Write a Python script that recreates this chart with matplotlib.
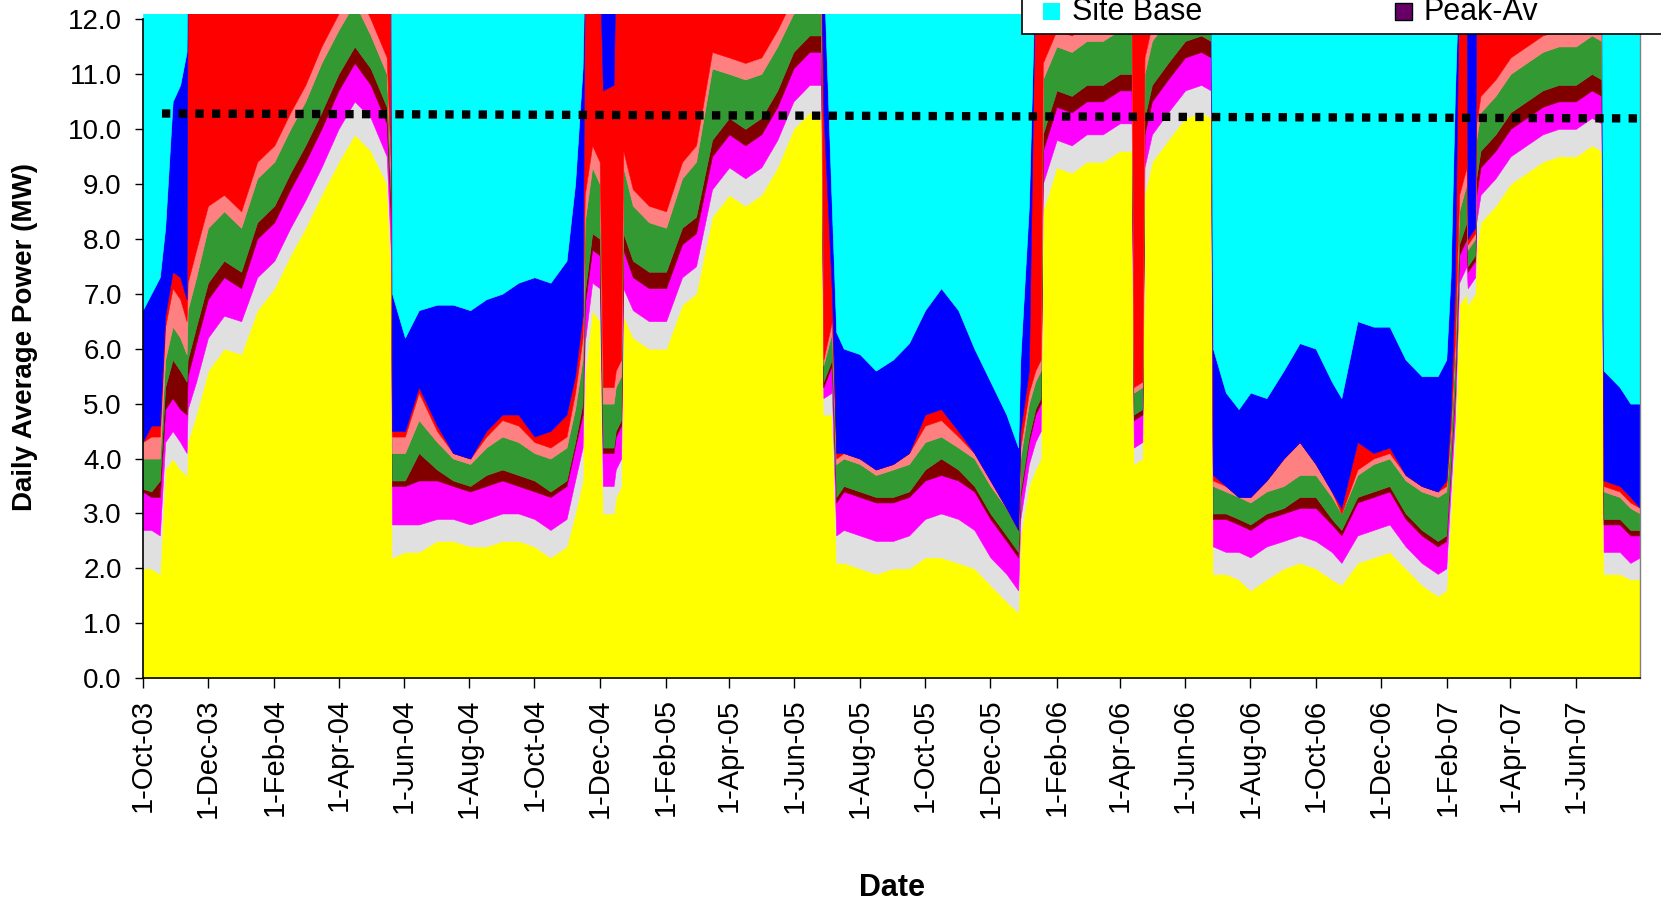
import numpy as np
import matplotlib
matplotlib.use("Agg")
import matplotlib.pyplot as plt
import matplotlib.dates as mdates
from matplotlib.patches import Rectangle

plt.rcParams['font.family'] = ['Liberation Sans', 'DejaVu Sans']

# ---------------- data (MW per layer) ----------------
dates = [
    '2003-10-01', '2003-10-09', '2003-10-17', '2003-10-22', '2003-10-29', '2003-11-05', '2003-11-11',
    '2003-11-12', '2003-11-20', '2003-12-01', '2003-12-16', '2004-01-01', '2004-01-16', '2004-02-01',
    '2004-02-16', '2004-03-01', '2004-03-16', '2004-04-01', '2004-04-16', '2004-05-01', '2004-05-16',
    '2004-05-20', '2004-05-21', '2004-06-02', '2004-06-15', '2004-07-02', '2004-07-17', '2004-08-02',
    '2004-08-17', '2004-09-01', '2004-09-16', '2004-10-01', '2004-10-16', '2004-10-31', '2004-11-08',
    '2004-11-15', '2004-11-17', '2004-11-24', '2004-12-01', '2004-12-04', '2004-12-14', '2004-12-16',
    '2004-12-21', '2004-12-23', '2005-01-01', '2005-01-16', '2005-02-01', '2005-02-16', '2005-03-01',
    '2005-03-16', '2005-04-01', '2005-04-16', '2005-05-01', '2005-05-16', '2005-05-31', '2005-06-15',
    '2005-06-26', '2005-06-28', '2005-07-06', '2005-07-10', '2005-07-17', '2005-08-01', '2005-08-16',
    '2005-09-01', '2005-09-16', '2005-10-01', '2005-10-16', '2005-11-01', '2005-11-16', '2005-12-01',
    '2005-12-16', '2005-12-27', '2005-12-29', '2006-01-06', '2006-01-12', '2006-01-17', '2006-01-19',
    '2006-02-01', '2006-02-15', '2006-03-01', '2006-03-16', '2006-04-01', '2006-04-12', '2006-04-14',
    '2006-04-22', '2006-04-24', '2006-05-01', '2006-05-16', '2006-06-01', '2006-06-16', '2006-06-25',
    '2006-06-27', '2006-07-09', '2006-07-21', '2006-08-01', '2006-08-16', '2006-09-01', '2006-09-16',
    '2006-10-01', '2006-10-16', '2006-10-25', '2006-11-09', '2006-11-24', '2006-12-09', '2006-12-24',
    '2007-01-08', '2007-01-23', '2007-01-31', '2007-02-04', '2007-02-08', '2007-02-12', '2007-02-19',
    '2007-02-20', '2007-02-27', '2007-02-28', '2007-03-04', '2007-03-18', '2007-04-01', '2007-04-16',
    '2007-05-01', '2007-05-16', '2007-06-01', '2007-06-16', '2007-06-25', '2007-06-27', '2007-07-12',
    '2007-07-22', '2007-07-31',
]

yellow = [
    2.0, 2.0, 1.9, 3.8, 4.0, 3.8, 3.7,
    4.3, 4.8, 5.6, 6.0, 5.9, 6.7, 7.1,
    7.7, 8.2, 8.8, 9.4, 9.9, 9.6, 9.0,
    7.2, 2.2, 2.3, 2.3, 2.5, 2.5, 2.4,
    2.4, 2.5, 2.5, 2.4, 2.2, 2.4, 3.0,
    3.6, 5.5, 6.7, 6.5, 3.0, 3.0, 3.3,
    3.5, 6.6, 6.2, 6.0, 6.0, 6.8, 7.0,
    8.4, 8.8, 8.6, 8.8, 9.3, 10.0, 10.3,
    10.3, 4.8, 4.8, 2.1, 2.1, 2.0, 1.9,
    2.0, 2.0, 2.2, 2.2, 2.1, 2.0, 1.7,
    1.4, 1.2, 2.6, 3.5, 3.8, 4.0, 8.5,
    9.3, 9.2, 9.4, 9.4, 9.6, 9.6, 3.9,
    4.0, 8.8, 9.4, 9.8, 10.2, 10.3, 10.2,
    1.9, 1.9, 1.8, 1.6, 1.8, 2.0, 2.1,
    2.0, 1.8, 1.7, 2.1, 2.2, 2.3, 2.0,
    1.7, 1.5, 1.6, 3.0, 4.3, 6.8, 7.0,
    6.8, 7.0, 7.8, 8.3, 8.6, 9.0, 9.2,
    9.4, 9.5, 9.5, 9.7, 9.6, 1.9, 1.9,
    1.8, 1.8,
]
light_grey = [
    0.7, 0.7, 0.7, 0.5, 0.5, 0.5, 0.4,
    0.6, 0.6, 0.6, 0.6, 0.6, 0.6, 0.5,
    0.5, 0.5, 0.5, 0.6, 0.6, 0.6, 0.5,
    0.5, 0.6, 0.5, 0.5, 0.4, 0.4, 0.4,
    0.5, 0.5, 0.5, 0.5, 0.5, 0.5, 0.6,
    0.6, 0.6, 0.5, 0.6, 0.5, 0.5, 0.5,
    0.5, 0.5, 0.5, 0.5, 0.5, 0.5, 0.5,
    0.5, 0.5, 0.5, 0.5, 0.5, 0.5, 0.5,
    0.5, 0.3, 0.4, 0.5, 0.6, 0.6, 0.6,
    0.5, 0.6, 0.7, 0.8, 0.8, 0.7, 0.5,
    0.5, 0.4, 0.3, 0.4, 0.5, 0.5, 0.5,
    0.5, 0.5, 0.5, 0.5, 0.5, 0.5, 0.3,
    0.3, 0.5, 0.5, 0.5, 0.5, 0.5, 0.5,
    0.5, 0.4, 0.5, 0.6, 0.6, 0.5, 0.5,
    0.5, 0.5, 0.4, 0.5, 0.5, 0.5, 0.4,
    0.4, 0.4, 0.4, 0.4, 0.4, 0.4, 0.5,
    0.3, 0.3, 0.5, 0.5, 0.5, 0.5, 0.5,
    0.5, 0.5, 0.5, 0.5, 0.5, 0.4, 0.4,
    0.3, 0.4,
]
magenta = [
    0.7, 0.6, 0.7, 0.6, 0.6, 0.6, 0.7,
    0.6, 0.7, 0.7, 0.7, 0.6, 0.7, 0.7,
    0.7, 0.7, 0.7, 0.7, 0.7, 0.6, 0.6,
    0.6, 0.7, 0.7, 0.8, 0.7, 0.6, 0.6,
    0.6, 0.6, 0.5, 0.5, 0.6, 0.6, 0.6,
    0.6, 0.7, 0.6, 0.6, 0.6, 0.6, 0.6,
    0.6, 0.7, 0.6, 0.6, 0.6, 0.6, 0.6,
    0.6, 0.6, 0.6, 0.6, 0.6, 0.6, 0.6,
    0.6, 0.2, 0.5, 0.6, 0.7, 0.7, 0.7,
    0.7, 0.7, 0.7, 0.7, 0.7, 0.7, 0.7,
    0.6, 0.6, 0.4, 0.4, 0.5, 0.5, 0.6,
    0.6, 0.6, 0.6, 0.6, 0.6, 0.6, 0.5,
    0.5, 0.6, 0.6, 0.6, 0.6, 0.6, 0.6,
    0.5, 0.6, 0.5, 0.5, 0.5, 0.5, 0.5,
    0.6, 0.5, 0.5, 0.6, 0.6, 0.6, 0.5,
    0.5, 0.5, 0.5, 0.4, 0.5, 0.5, 0.5,
    0.3, 0.3, 0.5, 0.5, 0.5, 0.5, 0.5,
    0.5, 0.5, 0.5, 0.5, 0.5, 0.5, 0.5,
    0.5, 0.4,
]
maroon = [
    0.05, 0.1, 0.3, 0.4, 0.7, 0.7, 0.6,
    0.3, 0.3, 0.3, 0.3, 0.3, 0.3, 0.3,
    0.3, 0.3, 0.3, 0.3, 0.3, 0.3, 0.3,
    0.3, 0.1, 0.1, 0.5, 0.2, 0.1, 0.1,
    0.2, 0.2, 0.2, 0.2, 0.1, 0.1, 0.1,
    0.2, 0.2, 0.3, 0.3, 0.1, 0.1, 0.1,
    0.1, 0.3, 0.3, 0.3, 0.3, 0.3, 0.3,
    0.3, 0.3, 0.3, 0.3, 0.3, 0.3, 0.3,
    0.3, 0.1, 0.1, 0.1, 0.1, 0.1, 0.1,
    0.1, 0.1, 0.2, 0.3, 0.2, 0.1, 0.1,
    0.1, 0.1, 0.1, 0.1, 0.1, 0.1, 0.3,
    0.3, 0.3, 0.3, 0.3, 0.3, 0.3, 0.1,
    0.1, 0.3, 0.3, 0.3, 0.3, 0.3, 0.3,
    0.1, 0.1, 0.1, 0.1, 0.1, 0.1, 0.2,
    0.2, 0.1, 0.1, 0.1, 0.1, 0.1, 0.1,
    0.1, 0.1, 0.1, 0.1, 0.1, 0.2, 0.3,
    0.1, 0.1, 0.3, 0.3, 0.3, 0.3, 0.3,
    0.3, 0.3, 0.3, 0.3, 0.3, 0.1, 0.1,
    0.1, 0.1,
]
green = [
    0.55, 0.6, 0.4, 0.5, 0.6, 0.6, 0.5,
    0.9, 0.9, 1.0, 0.9, 0.8, 0.8, 0.8,
    0.8, 0.8, 0.9, 0.8, 0.8, 0.6, 0.6,
    0.4, 0.5, 0.5, 0.6, 0.5, 0.4, 0.4,
    0.5, 0.6, 0.6, 0.5, 0.6, 0.6, 0.6,
    0.8, 1.3, 1.2, 1.0, 0.8, 0.8, 0.8,
    0.8, 1.2, 1.0, 0.9, 0.8, 0.9, 1.0,
    1.3, 0.8, 0.9, 0.8, 0.8, 0.7, 0.7,
    0.7, 0.3, 0.5, 0.6, 0.5, 0.5, 0.4,
    0.5, 0.5, 0.5, 0.4, 0.4, 0.5, 0.5,
    0.5, 0.4, 0.6, 0.6, 0.5, 0.5, 1.0,
    0.8, 0.8, 0.8, 0.8, 0.8, 0.8, 0.4,
    0.4, 0.8, 0.8, 0.8, 0.8, 0.8, 0.8,
    0.5, 0.4, 0.4, 0.4, 0.4, 0.4, 0.4,
    0.4, 0.4, 0.3, 0.4, 0.5, 0.5, 0.6,
    0.7, 0.8, 0.8, 0.5, 0.6, 0.6, 0.7,
    0.3, 0.3, 0.7, 0.7, 0.7, 0.7, 0.7,
    0.7, 0.7, 0.7, 0.7, 0.7, 0.5, 0.4,
    0.4, 0.3,
]
salmon = [
    0.3, 0.4, 0.4, 0.6, 0.7, 0.7, 0.6,
    0.5, 0.5, 0.4, 0.3, 0.3, 0.3, 0.3,
    0.3, 0.3, 0.3, 0.3, 0.3, 0.3, 0.3,
    0.2, 0.3, 0.3, 0.5, 0.2, 0.1, 0.1,
    0.2, 0.3, 0.3, 0.2, 0.2, 0.2, 0.3,
    0.4, 0.5, 0.4, 0.4, 0.3, 0.3, 0.3,
    0.3, 0.3, 0.3, 0.3, 0.3, 0.3, 0.3,
    0.3, 0.3, 0.3, 0.3, 0.3, 0.3, 0.3,
    0.3, 0.1, 0.2, 0.1, 0.1, 0.1, 0.1,
    0.1, 0.2, 0.3, 0.3, 0.2, 0.1, 0.1,
    0.0, 0.0, 0.2, 0.2, 0.2, 0.2, 0.3,
    0.3, 0.3, 0.3, 0.3, 0.3, 0.3, 0.1,
    0.1, 0.3, 0.3, 0.3, 0.3, 0.3, 0.3,
    0.1, 0.1, 0.0, 0.1, 0.2, 0.5, 0.6,
    0.2, 0.1, 0.0, 0.1, 0.1, 0.1, 0.1,
    0.1, 0.1, 0.1, 0.1, 0.2, 0.3, 0.3,
    0.1, 0.1, 0.3, 0.3, 0.3, 0.3, 0.3,
    0.3, 0.3, 0.3, 0.3, 0.3, 0.1, 0.1,
    0.1, 0.1,
]
red = [
    0.0, 0.2, 0.2, 0.2, 0.3, 0.4, 0.4,
    5.8, 5.2, 4.4, 4.2, 4.5, 3.6, 3.3,
    2.7, 2.2, 1.5, 0.9, 0.4, 1.0, 1.7,
    3.8, 0.1, 0.1, 0.1, 0.1, 0.0, 0.0,
    0.1, 0.1, 0.2, 0.1, 0.3, 0.4, 0.3,
    0.4, 4.2, 3.3, 3.6, 5.4, 5.5, 7.4,
    7.2, 3.4, 4.1, 4.4, 4.5, 3.6, 3.3,
    1.6, 1.7, 1.8, 1.7, 1.2, 0.6, 0.3,
    0.3, 4.5, 0.5, 0.1, 0.0, 0.0, 0.0,
    0.0, 0.0, 0.2, 0.2, 0.1, 0.0, 0.0,
    0.0, 0.0, 0.3, 0.4, 7.4, 7.2, 1.8,
    1.2, 1.3, 1.1, 1.1, 0.9, 0.9, 7.7,
    7.6, 1.7, 1.1, 0.7, 0.3, 0.2, 0.3,
    0.1, 0.0, 0.0, 0.0, 0.0, 0.0, 0.0,
    0.0, 0.0, 0.1, 0.5, 0.1, 0.1, 0.0,
    0.0, 0.0, 0.1, 0.3, 1.0, 4.2, 3.7,
    0.1, 0.1, 2.9, 2.4, 2.1, 1.7, 1.5,
    1.3, 1.2, 1.2, 1.0, 1.1, 0.1, 0.1,
    0.1, 0.0,
]
blue = [
    2.4, 2.4, 2.7, 1.6, 3.1, 3.5, 4.5,
    0, 0, 0, 0, 0, 0, 0,
    0, 0, 0, 0, 0, 0, 0,
    0, 2.5, 1.7, 1.4, 2.2, 2.7, 2.7,
    2.4, 2.2, 2.4, 2.9, 2.7, 2.8, 3.5,
    4.5, 0, 0, 0, 2.3, 2.2, 0,
    0, 0, 0, 0, 0, 0, 0,
    0, 0, 0, 0, 0, 0, 0,
    0, 2.7, 1.5, 2.2, 1.9, 1.9, 1.8,
    1.9, 2.0, 1.9, 2.2, 2.2, 1.9, 1.8,
    1.7, 1.5, 1.3, 3.0, 0, 0, 0,
    0, 0, 0, 0, 0, 0, 0,
    0, 0, 0, 0, 0, 0, 0,
    2.3, 1.7, 1.6, 1.9, 1.5, 1.6, 1.8,
    2.1, 2.0, 2.0, 2.2, 2.3, 2.2, 2.1,
    2.0, 2.1, 2.2, 2.5, 3.5, 0, 0,
    5.0, 4.8, 0, 0, 0, 0, 0,
    0, 0, 0, 0, 0, 2.0, 1.8,
    1.7, 1.9,
]
site_base = [
    6.3, 6.0, 5.7, 4.8, 2.5, 2.2, 1.6,
    0, 0, 0, 0, 0, 0, 0,
    0, 0, 0, 0, 0, 0, 0,
    0, 6.0, 6.8, 6.3, 6.2, 6.2, 6.3,
    6.1, 6.0, 5.8, 5.7, 5.8, 5.4, 4.0,
    1.9, 0, 0, 0, 0, 0, 0,
    0, 0, 0, 0, 0, 0, 0,
    0, 0, 0, 0, 0, 0, 0,
    0, 0, 4.5, 6.7, 7.0, 7.1, 7.4,
    7.2, 6.9, 6.3, 5.9, 6.3, 7.0, 7.6,
    8.2, 8.8, 7.2, 4.4, 0, 0, 0,
    0, 0, 0, 0, 0, 0, 0,
    0, 0, 0, 0, 0, 0, 0,
    7.0, 7.8, 8.1, 7.8, 7.9, 7.4, 6.9,
    7.0, 7.6, 7.9, 6.5, 6.6, 6.6, 7.2,
    7.5, 7.5, 7.2, 5.7, 2.4, 0, 0,
    0, 0, 0, 0, 0, 0, 0,
    0, 0, 0, 0, 0, 7.4, 7.7,
    8.0, 8.0,
]

trend_dates = ['2003-10-19', '2007-07-31']
trend_values = [10.28, 10.19]

tick_dates = ['2003-10-01', '2003-12-01', '2004-02-01', '2004-04-01', '2004-06-01', '2004-08-01',
              '2004-10-01', '2004-12-01', '2005-02-01', '2005-04-01', '2005-06-01', '2005-08-01',
              '2005-10-01', '2005-12-01', '2006-02-01', '2006-04-01', '2006-06-01', '2006-08-01',
              '2006-10-01', '2006-12-01', '2007-02-01', '2007-04-01', '2007-06-01']
tick_labels = ['1-Oct-03', '1-Dec-03', '1-Feb-04', '1-Apr-04', '1-Jun-04', '1-Aug-04',
               '1-Oct-04', '1-Dec-04', '1-Feb-05', '1-Apr-05', '1-Jun-05', '1-Aug-05',
               '1-Oct-05', '1-Dec-05', '1-Feb-06', '1-Apr-06', '1-Jun-06', '1-Aug-06',
               '1-Oct-06', '1-Dec-06', '1-Feb-07', '1-Apr-07', '1-Jun-07']

layer_colors = ['#FFFF00', '#E0E0E0', '#FF00FF', '#800000', '#339933',
                '#FF8080', '#FF0000', '#0000FF', '#00FFFF']

# ---------------- figure ----------------
W, H = 1661, 906
fig = plt.figure(figsize=(W / 100, H / 100), dpi=100)
ax = fig.add_axes([142.7 / W, 1 - 678.3 / H, (1640 - 142.7) / W, (678.3 - 13.5) / H])

x = mdates.date2num(np.array(dates, dtype='datetime64[D]'))
layers = [yellow, light_grey, magenta, maroon, green, salmon, red, blue, site_base]
ax.stackplot(x, layers, colors=layer_colors, edgecolor='face', linewidth=0.4)

tx = mdates.date2num(np.array(trend_dates, dtype='datetime64[D]'))
ax.plot(tx, trend_values, color='black', linewidth=6, linestyle=(0, (1, 1)),
        dash_capstyle='butt', zorder=5)

ax.set_xlim(mdates.date2num(np.datetime64('2003-10-01')),
            mdates.date2num(np.datetime64('2007-07-31')))
ax.set_ylim(0, 12.1)

ax.set_xticks(mdates.date2num(np.array(tick_dates, dtype='datetime64[D]')))
ax.set_xticklabels(tick_labels, rotation=90)
ax.set_yticks(np.arange(0, 13, 1))
ax.set_yticklabels([f'{v:.1f}' for v in np.arange(0, 13, 1)])

ax.tick_params(axis='y', direction='out', length=5.5, width=1, pad=9.5, labelsize=20)
ax.tick_params(axis='x', direction='out', length=7, width=1, pad=7.5, labelsize=21)

ax.spines['top'].set_visible(False)
ax.spines['right'].set_color('#808080')
ax.spines['right'].set_linewidth(1)
ax.spines['left'].set_linewidth(1.2)
ax.spines['bottom'].set_linewidth(1.2)
ax.spines['left'].set_bounds(0, 12)

ax.set_ylabel('Daily Average Power (MW)', fontsize=20, fontweight='bold')
ax.yaxis.label.set_verticalalignment('center')
ax.yaxis.set_label_coords((25 - 142.7) / (1640 - 142.7), 0.513)
ax.set_xlabel('Date', fontsize=22, fontweight='bold')
ax.xaxis.label.set_verticalalignment('center')
ax.xaxis.set_label_coords(0.5004, (678.3 - 888) / (678.3 - 13.5))

# legend box (cut by the top edge of the picture, as in the original)
fig.add_artist(Rectangle((1022 / W, 1 - 34 / H), 700 / W, 120 / H, transform=fig.transFigure,
                         facecolor='white', edgecolor='black', linewidth=1.2, zorder=5))
fig.add_artist(Rectangle((1043 / W, 1 - 20 / H), 17 / W, 17 / H, transform=fig.transFigure,
                         facecolor='#00FFFF', edgecolor='none', zorder=6))
fig.add_artist(Rectangle((1395 / W, 1 - 20 / H), 17 / W, 17 / H, transform=fig.transFigure,
                         facecolor='#660066', edgecolor='black', linewidth=1, zorder=6))
fig.text(1072 / W, 1 - 20 / H, 'Site Base', fontsize=22, va='baseline', zorder=7)
fig.text(1423 / W, 1 - 20 / H, 'Peak-Av', fontsize=22, va='baseline', zorder=7)

fig.savefig('out.png', dpi=100)
